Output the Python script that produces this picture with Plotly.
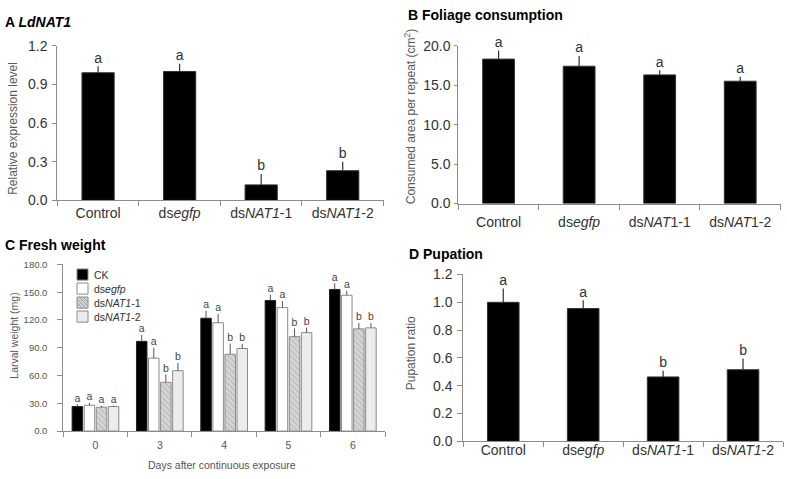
import plotly.graph_objects as go

# ---------------- data ----------------
cats_a = ["Control", "ds<i>egfp</i>", "ds<i>NAT1</i>-1", "ds<i>NAT1</i>-2"]
expr_vals = [0.99, 1.00, 0.12, 0.23]
expr_err = [0.05, 0.06, 0.085, 0.07]
expr_letters = ["a", "a", "b", "b"]

cats_b = ["Control", "ds<i>egfp</i>", "ds<i>NAT</i>1-1", "ds<i>NAT</i>1-2"]
foliage_vals = [18.3, 17.4, 16.3, 15.5]
foliage_err = [1.1, 1.3, 0.6, 0.57]
foliage_letters = ["a", "a", "a", "a"]

days = ["0", "3", "4", "5", "6"]
series_names = ["CK", "ds<i>egfp</i>", "ds<i>NAT1</i>-1", "ds<i>NAT1</i>-2"]
ck_vals = [26.5, 96.9, 121.9, 141.0, 153.0]
ck_err = [2.5, 7.0, 8.1, 6.4, 6.6]
egfp_vals = [27.9, 78.8, 117.0, 133.4, 146.7]
egfp_err = [2.4, 11.1, 9.5, 7.0, 4.8]
nat1_vals = [25.8, 52.7, 83.0, 102.0, 110.4]
nat1_err = [1.4, 8.6, 11.5, 8.8, 6.3]
nat2_vals = [26.5, 65.2, 89.2, 106.3, 111.5]
nat2_err = [1.1, 8.4, 5.0, 5.5, 5.2]
ck_letters = ["a", "a", "a", "a", "a"]
egfp_letters = ["a", "a", "a", "a", "a"]
nat1_letters = ["a", "b", "b", "b", "b"]
nat2_letters = ["a", "b", "b", "b", "b"]

cats_d = ["Control", "ds<i>egfp</i>", "ds<i>NAT1</i>-1", "ds<i>NAT1</i>-2"]
pup_vals = [1.00, 0.955, 0.463, 0.515]
pup_err = [0.10, 0.06, 0.045, 0.08]
pup_letters = ["a", "a", "b", "b"]

# ---------------- layout helpers ----------------
W, H = 787, 479
FONT = "Liberation Sans"
AXC = "#8c8c8c"


def fx(x):
    return x / W


def fy(y):
    return 1 - y / H


fig = go.Figure()


def single_panel(n, cats, vals, errs, letters, fsize=14):
    xa = "x" if n == 1 else f"x{n}"
    ya = "y" if n == 1 else f"y{n}"
    fig.add_trace(go.Bar(
        x=cats, y=vals, xaxis=xa, yaxis=ya, width=0.395,
        marker=dict(color="#000000", line=dict(color="#333333", width=1)),
        error_y=dict(type="data", symmetric=False, array=errs,
                     arrayminus=[0] * len(errs), color="#333333",
                     thickness=1.2, width=0),
        showlegend=False, hoverinfo="skip"))
    fig.add_trace(go.Scatter(
        x=cats, y=[v + e for v, e in zip(vals, errs)], xaxis=xa, yaxis=ya,
        mode="text", text=letters, textposition="top center",
        textfont=dict(family=FONT, size=fsize, color="#333333"),
        cliponaxis=False, showlegend=False, hoverinfo="skip"))


single_panel(1, cats_a, expr_vals, expr_err, expr_letters)
single_panel(2, cats_b, foliage_vals, foliage_err, foliage_letters)
single_panel(4, cats_d, pup_vals, pup_err, pup_letters)

# panel C grouped bars
c_series = [
    (ck_vals, ck_err, ck_letters, dict(color="#000000", line=dict(color="#222222", width=1))),
    (egfp_vals, egfp_err, egfp_letters, dict(color="#ffffff", line=dict(color="#8a8a8a", width=1))),
    (nat1_vals, nat1_err, nat1_letters, dict(color="#d2d2d2", line=dict(color="#8a8a8a", width=1),
                                            pattern=dict(shape="\\", fgcolor="#9c9c9c",
                                                         bgcolor="#d6d6d6", size=4, solidity=0.3))),
    (nat2_vals, nat2_err, nat2_letters, dict(color="#ececec", line=dict(color="#8a8a8a", width=1))),
]
for (vals, errs, letters, mk), name in zip(c_series, series_names):
    fig.add_trace(go.Bar(
        x=days, y=vals, xaxis="x3", yaxis="y3", name=name, marker=mk,
        error_y=dict(type="data", symmetric=False, array=errs,
                     arrayminus=[0] * len(errs), color="#555555",
                     thickness=1, width=0),
        showlegend=False, hoverinfo="skip"))
for (vals, errs, letters, mk), name in zip(c_series, series_names):
    fig.add_trace(go.Scatter(
        x=days, y=[v + e for v, e in zip(vals, errs)], xaxis="x3", yaxis="y3",
        mode="text", text=letters, textposition="top center",
        textfont=dict(family=FONT, size=10.5, color="#444444"),
        cliponaxis=False, showlegend=False, hoverinfo="skip"))


def xaxis_def(x0, x1, anchor, fsize, standoff):
    return dict(domain=[fx(x0), fx(x1)], anchor=anchor, type="category",
                showline=True, linecolor=AXC, linewidth=1, ticks="outside",
                tickson="boundaries", ticklen=5, tickcolor=AXC, showgrid=False,
                zeroline=False, tickfont=dict(family=FONT, size=fsize, color="#333333"),
                ticklabelstandoff=standoff, fixedrange=True)


def yaxis_def(top, bot, anchor, rng, dtick, fsize, color, standoff, ticklen=4):
    return dict(domain=[fy(bot), fy(top)], anchor=anchor, range=rng, dtick=dtick,
                tickformat=".1f", showline=True, linecolor=AXC, linewidth=1,
                ticks="outside", ticklen=ticklen, tickcolor=AXC, showgrid=False,
                zeroline=False, tickfont=dict(family=FONT, size=fsize, color=color),
                ticklabelstandoff=standoff, fixedrange=True)


fig.update_layout(
    width=W, height=H, autosize=False,
    margin=dict(l=0, r=0, t=0, b=0),
    paper_bgcolor="white", plot_bgcolor="white",
    barmode="group", bargap=0.25, bargroupgap=0.13,
    scattermode="group", scattergap=0.25,
    hovermode=False,
    xaxis=xaxis_def(57.3, 383.5, "y", 14, 0),
    yaxis=yaxis_def(39, 199, "x", [0, 1.2], 0.3, 14, "#333333", 2),
    xaxis2=xaxis_def(458.3, 780.5, "y2", 14, 6),
    yaxis2=yaxis_def(39, 202.3, "x2", [0, 20], 5, 14, "#333333", 1, 3),
    xaxis3=xaxis_def(63.3, 385, "y3", 10.5, 4),
    yaxis3=yaxis_def(265.3, 437.7, "x3", [0, 180], 30, 9.5, "#555555", 8, 5),
    xaxis4=xaxis_def(463.3, 783, "y4", 14, -4),
    yaxis4=yaxis_def(275.7, 448.3, "x4", [0, 1.2], 0.2, 14, "#333333", 2, 5),
)
fig.update_layout(xaxis3=dict(tickfont=dict(color="#555555")))

ann = []


def title(text, x, y):
    ann.append(dict(text=text, x=fx(x), y=fy(y), xref="paper", yref="paper",
                    xanchor="left", yanchor="middle", showarrow=False,
                    font=dict(family=FONT, size=14, color="#000000")))


title("<b>A <i>LdNAT1</i></b>", 2.5, 15)
title("<b>B Foliage consumption</b>", 406.5, 7.5)
title("<b>C Fresh weight</b>", 2.5, 245)
title("<b>D Pupation</b>", 407, 254)


def ytitle(text, x, y, size):
    ann.append(dict(text=text, x=fx(x), y=fy(y), xref="paper", yref="paper",
                    xanchor="center", yanchor="middle", textangle=-90, showarrow=False,
                    font=dict(family=FONT, size=size, color="#595959")))


ytitle("Relative expression level", 13, 125, 12)
ytitle("Consumed area per repeat (cm<sup>2</sup>)", 410, 113, 12)
ytitle("Larval weight (mg)", 14, 339, 10.5)
ytitle("Pupation ratio", 410.7, 357.5, 12)

ann.append(dict(text="Days after continuous exposure", x=fx(222), y=fy(472.5),
                xref="paper", yref="paper", xanchor="center", yanchor="middle",
                showarrow=False, font=dict(family=FONT, size=10.5, color="#555555")))

# manual legend for panel C
shapes = []
leg_tops = [270, 284.5, 299, 313.5]
leg_fills = ["#000000", "#ffffff", "#d2d2d2", "#ececec"]
for top, fill, name in zip(leg_tops, leg_fills, series_names):
    shapes.append(dict(type="rect", xref="paper", yref="paper",
                       x0=fx(77), x1=fx(88), y0=fy(top + 11.5), y1=fy(top),
                       fillcolor=fill, line=dict(color="#8a8a8a", width=1)))
    ann.append(dict(text=name, x=fx(92), y=fy(top + 6), xref="paper", yref="paper",
                    xanchor="left", yanchor="middle", showarrow=False,
                    font=dict(family=FONT, size=10.5, color="#333333")))
# hatching of the dsNAT1-1 legend swatch
htop = leg_tops[2]
for o in [-6, -2, 2, 6]:
    xa0, ya0 = 77 + max(0, o), htop + max(0, -o)
    xa1, ya1 = 88 + min(0, o), htop + 11.5 - max(0, o)
    shapes.append(dict(type="line", xref="paper", yref="paper",
                       x0=fx(xa0), y0=fy(ya0), x1=fx(xa1), y1=fy(ya1),
                       line=dict(color="#9c9c9c", width=1)))

fig.update_layout(annotations=ann, shapes=shapes)
fig.write_html(
    "out.html",
    config={"displayModeBar": False, "staticPlot": True},
    post_script="document.body.style.margin='0';document.body.style.padding='0';"
                "document.documentElement.style.overflow='hidden';",
)
